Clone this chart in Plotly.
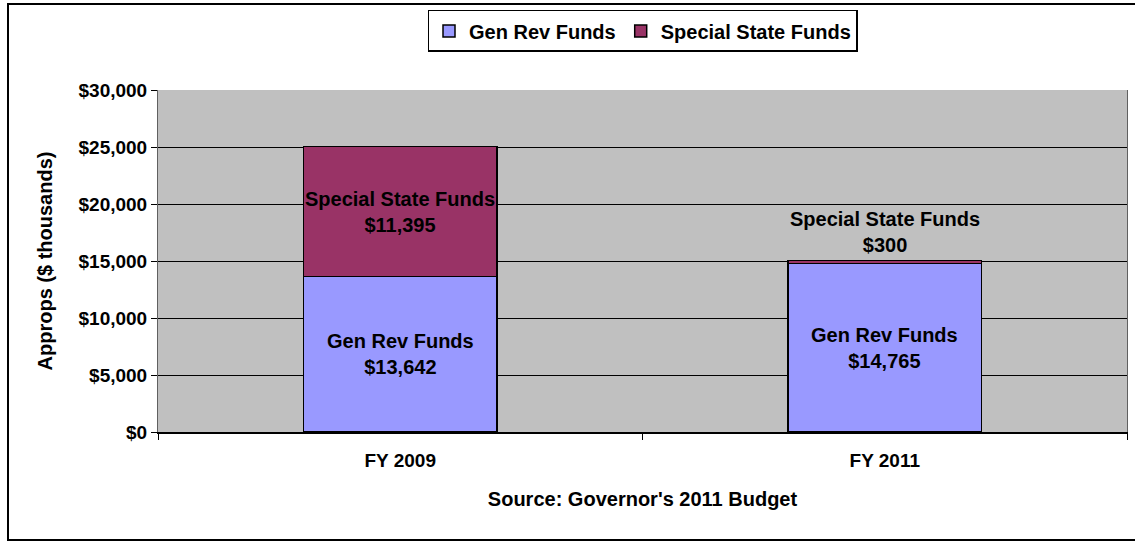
import plotly.graph_objects as go

# Appropriations by fiscal year ($ thousands)
years = ["FY 2009", "FY 2011"]
gen_rev = [13642, 14765]
special_state = [11395, 300]
series_names = ["Gen Rev Funds", "Special State Funds"]
y_ticks = [0, 5000, 10000, 15000, 20000, 25000, 30000]

FONT = "Liberation Sans, Arial, sans-serif"
BLUE = "#9999FF"
PLUM = "#993366"

x_pos = list(range(len(years)))

fig = go.Figure()
fig.add_trace(go.Bar(
    x=x_pos, y=gen_rev, name=series_names[0], width=0.4,
    marker=dict(color=BLUE, line=dict(color="black", width=1.5)),
))
fig.add_trace(go.Bar(
    x=x_pos, y=special_state, name=series_names[1], width=0.4,
    marker=dict(color=PLUM, line=dict(color="black", width=1.5)),
))

label_font = dict(family=FONT, size=20, color="black")
annotations = []
for i, (g, s) in enumerate(zip(gen_rev, special_state)):
    annotations.append(dict(
        x=i, y=g / 2, xref="x", yref="y", showarrow=False,
        text=f"<b>{series_names[0]}<br>${g:,}</b>", font=label_font,
    ))
    if s > 3000:
        annotations.append(dict(
            x=i, y=g + s / 2, xref="x", yref="y", showarrow=False,
            text=f"<b>{series_names[1]}<br>${s:,}</b>", font=label_font,
        ))
    else:
        annotations.append(dict(
            x=i, y=g + s, xref="x", yref="y", showarrow=False,
            yanchor="bottom", yshift=2,
            text=f"<b>{series_names[1]}<br>${s:,}</b>", font=label_font,
        ))

fig.update_layout(
    barmode="stack",
    width=1135, height=542,
    margin=dict(l=158, r=8, t=90, b=110),
    paper_bgcolor="white",
    plot_bgcolor="#C0C0C0",
    font=dict(family=FONT, size=19, color="black"),
    showlegend=True,
    legend=dict(
        orientation="h", x=0.5, xanchor="center", y=1.234, yanchor="top",
        bordercolor="black", borderwidth=1.5, bgcolor="white",
        font=dict(family=FONT, size=20, color="black", weight="bold"),
        traceorder="normal", itemwidth=30,
    ),
    annotations=annotations,
    shapes=[dict(
        type="rect", xref="paper", yref="paper",
        x0=-150 / 969, x1=1.2, y0=-108 / 342, y1=1 + 86 / 342,
        line=dict(color="black", width=2), fillcolor="rgba(0,0,0,0)",
        layer="below",
    )],
    bargap=0.6,
)

fig.update_xaxes(
    range=[-0.5, 1.5], tickvals=x_pos, ticktext=[f"<b>{y}</b>" for y in years],
    ticks="", showgrid=False, zeroline=False,
    showline=True, linecolor="black", linewidth=1.5,
    tickfont=dict(family=FONT, size=19, color="black"),
    ticklabelstandoff=10,
    minor=dict(ticks="outside", tick0=-0.5, dtick=1, ticklen=6,
               tickcolor="black", tickwidth=1, showgrid=False),
    title=dict(text="<b>Source: Governor's 2011 Budget</b>",
               font=dict(family=FONT, size=20, color="black"), standoff=22),
    fixedrange=True,
)
fig.update_yaxes(
    range=[0, 30000], tickvals=y_ticks,
    ticktext=[f"<b>${v:,}</b>" for v in y_ticks],
    ticks="outside", ticklen=6, tickcolor="black",
    showgrid=True, gridcolor="black", gridwidth=1,
    zeroline=False, showline=True, linecolor="#606060", linewidth=1,
    mirror=True,
    tickfont=dict(family=FONT, size=19, color="black"),
    title=dict(text="<b>Approps ($ thousands)</b>",
               font=dict(family=FONT, size=20, color="black"), standoff=20),
    fixedrange=True,
)

fig.write_html("out.html", config={"displayModeBar": False})
